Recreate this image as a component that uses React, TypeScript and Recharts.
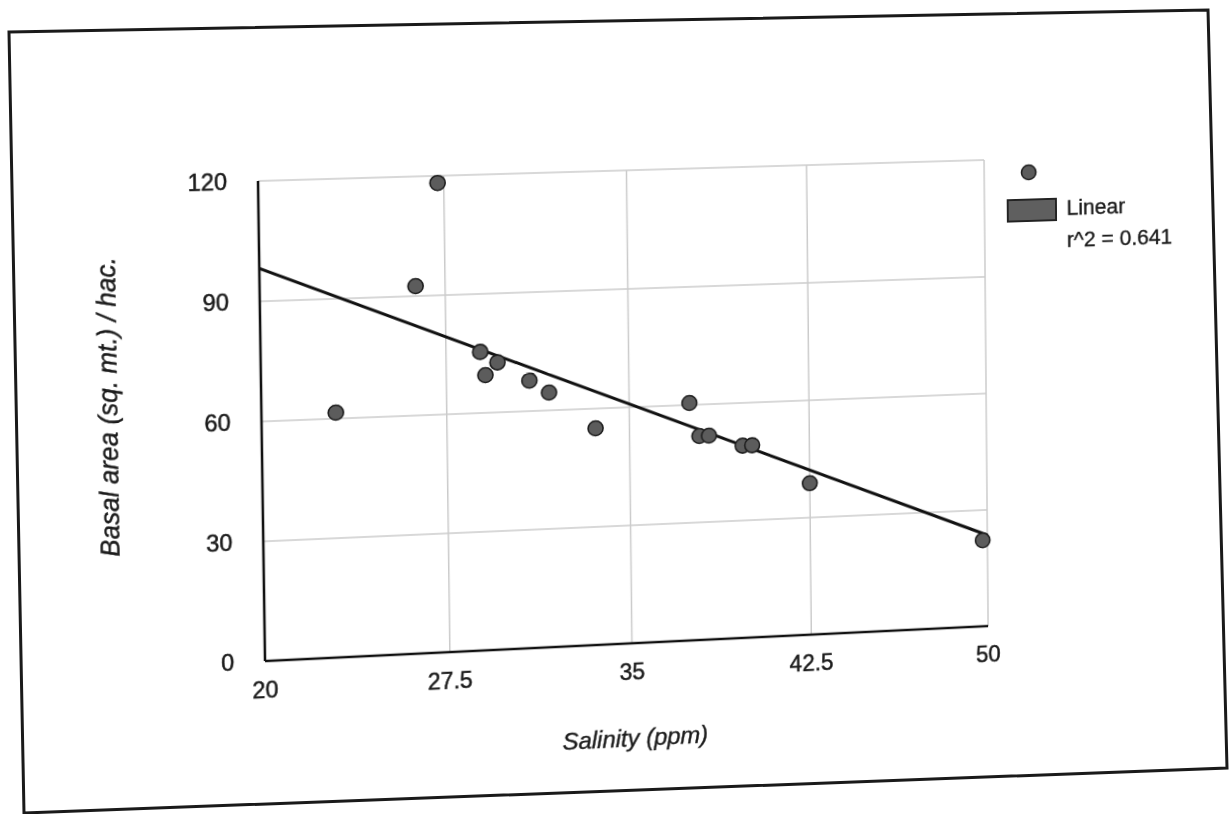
import { ScatterChart, Scatter, XAxis, YAxis, CartesianGrid, ReferenceLine } from 'recharts'

// salinity (ppm) vs basal area (sq. mt.) / hac.
const salinity = [23.0, 27.25, 26.3, 28.9, 29.1, 29.6, 30.9, 31.7, 33.6, 37.5, 37.9, 38.3, 39.7, 40.1, 42.5, 49.8]
const basalArea = [61.5, 118.2, 92.5, 75.4, 69.5, 72.6, 67.7, 64.5, 55.0, 60.5, 52.0, 52.0, 49.1, 49.1, 38.8, 22.2]

const xTicks = [20, 27.5, 35, 42.5, 50]
const yTicks = [0, 30, 60, 90, 120]

// linear trendline at the two ends
const trendX = [20, 50]
const trendY = [98.2, 23.5]
const rSquared = '0.641'

const points = salinity.map((x, i) => ({ x, y: basalArea[i] }))

const FONT = 'Arial, "Liberation Sans", sans-serif'
const INK = '#1c1c1c'

// the reference is a skewed scan; map the flat plot rect onto the scanned quad
const PLOT = { left: 258, top: 181, width: 727, height: 480 }
const PLOT_QUAD = [[258, 181], [984, 160], [988, 626], [265, 661]]
const FRAME = '9,32 1208,10 1227,768 24,813'

function warp(rect: typeof PLOT, quad: number[][]) {
  const [[x0, y0], [x1, y1], [x2, y2], [x3, y3]] = quad
  const dx1 = x1 - x2, dx2 = x3 - x2, dx3 = x0 - x1 + x2 - x3
  const dy1 = y1 - y2, dy2 = y3 - y2, dy3 = y0 - y1 + y2 - y3
  const den = dx1 * dy2 - dx2 * dy1
  const g = (dx3 * dy2 - dx2 * dy3) / den
  const h = (dx1 * dy3 - dx3 * dy1) / den
  const a = x1 - x0 + g * x1, b = x3 - x0 + h * x3, c = x0
  const d = y1 - y0 + g * y1, e = y3 - y0 + h * y3, f = y0
  const { left, top, width, height } = rect
  const m = [
    [a / width, b / height, c - (a * left) / width - (b * top) / height],
    [d / width, e / height, f - (d * left) / width - (e * top) / height],
    [g / width, h / height, 1 - (g * left) / width - (h * top) / height],
  ]
  const k = m[2][2]
  const n = m.map(r => r.map(v => v / k))
  return `matrix3d(${n[0][0]},${n[1][0]},0,${n[2][0]},${n[0][1]},${n[1][1]},0,${n[2][1]},0,0,1,0,${n[0][2]},${n[1][2]},0,${n[2][2]})`
}

const Dot = (props: any) => (
  <circle cx={props.cx} cy={props.cy} r={7.5} fill="#5c5c5c" stroke="#1e1e1e" strokeWidth={1.6} />
)

const tickStyle = { fontSize: 23, fill: INK, fontFamily: FONT, stroke: INK, strokeWidth: 0.5 }

export default function App() {
  const W = 1231
  const H = 785
  const yAxisWidth = 60
  const xAxisHeight = 40

  return (
    <div style={{ position: 'absolute', left: 0, top: 0, width: 1231, height: 814, background: '#fff', overflow: 'hidden' }}>
      <svg width={1231} height={814} style={{ position: 'absolute', left: 0, top: 0 }}>
        <polygon points={FRAME} fill="none" stroke="#1a1a1a" strokeWidth={3} />
      </svg>

      <div
        style={{
          position: 'absolute',
          left: 0,
          top: 0,
          width: W,
          height: H,
          transformOrigin: '0 0',
          transform: warp(PLOT, PLOT_QUAD),
          fontFamily: FONT,
          color: INK,
        }}
      >
        <ScatterChart
          width={W}
          height={H}
          margin={{
            top: PLOT.top,
            left: PLOT.left - yAxisWidth,
            right: W - PLOT.left - PLOT.width,
            bottom: H - PLOT.top - PLOT.height - xAxisHeight,
          }}
        >
          <CartesianGrid stroke="#cbcbcb" strokeWidth={1.5} />
          <XAxis
            type="number"
            dataKey="x"
            domain={[20, 50]}
            ticks={xTicks}
            height={xAxisHeight}
            tickLine={false}
            tickSize={0}
            tickMargin={21}
            axisLine={{ stroke: '#111', strokeWidth: 2.5 }}
            tick={tickStyle}
          />
          <YAxis
            type="number"
            dataKey="y"
            domain={[0, 120]}
            ticks={yTicks}
            width={yAxisWidth}
            tickLine={false}
            tickSize={0}
            tickMargin={30}
            axisLine={{ stroke: '#111', strokeWidth: 2.5 }}
            tick={tickStyle}
          />
          <ReferenceLine
            segment={[{ x: trendX[0], y: trendY[0] }, { x: trendX[1], y: trendY[1] }]}
            stroke="#111"
            strokeWidth={3}
            ifOverflow="visible"
          />
          <Scatter data={points} shape={Dot} isAnimationActive={false} />
        </ScatterChart>

        {/* axis titles */}
        <div
          style={{
            position: 'absolute',
            left: 624,
            top: 758,
            transform: 'translate(-50%, -50%)',
            fontSize: 24,
            fontStyle: 'italic',
            whiteSpace: 'nowrap',
            WebkitTextStroke: '0.4px ' + INK,
          }}
        >
          Salinity (ppm)
        </div>
        <div
          style={{
            position: 'absolute',
            left: 110,
            top: 401,
            transform: 'translate(-50%, -50%) rotate(-90deg)',
            fontSize: 26,
            fontStyle: 'italic',
            whiteSpace: 'nowrap',
            WebkitTextStroke: '0.4px ' + INK,
          }}
        >
          Basal area (sq. mt.) / hac.
        </div>

        {/* legend */}
        <svg width={20} height={20} style={{ position: 'absolute', left: 1021, top: 185 }}>
          <circle cx={10} cy={10} r={7.5} fill="#5c5c5c" stroke="#1e1e1e" strokeWidth={1.6} />
        </svg>
        <div
          style={{
            position: 'absolute',
            left: 1008,
            top: 222,
            width: 48,
            height: 20,
            background: '#5f5f5f',
            border: '2px solid #222',
          }}
        />
        <div
          style={{ position: 'absolute', left: 1070, top: 233, transform: 'translateY(-50%)', fontSize: 22, WebkitTextStroke: '0.4px ' + INK }}
        >
          Linear
        </div>
        <div
          style={{
            position: 'absolute',
            left: 1070,
            top: 266,
            transform: 'translateY(-50%)',
            fontSize: 22,
            whiteSpace: 'nowrap',
            WebkitTextStroke: '0.4px ' + INK,
          }}
        >
          r^2 = {rSquared}
        </div>
      </div>
    </div>
  )
}
